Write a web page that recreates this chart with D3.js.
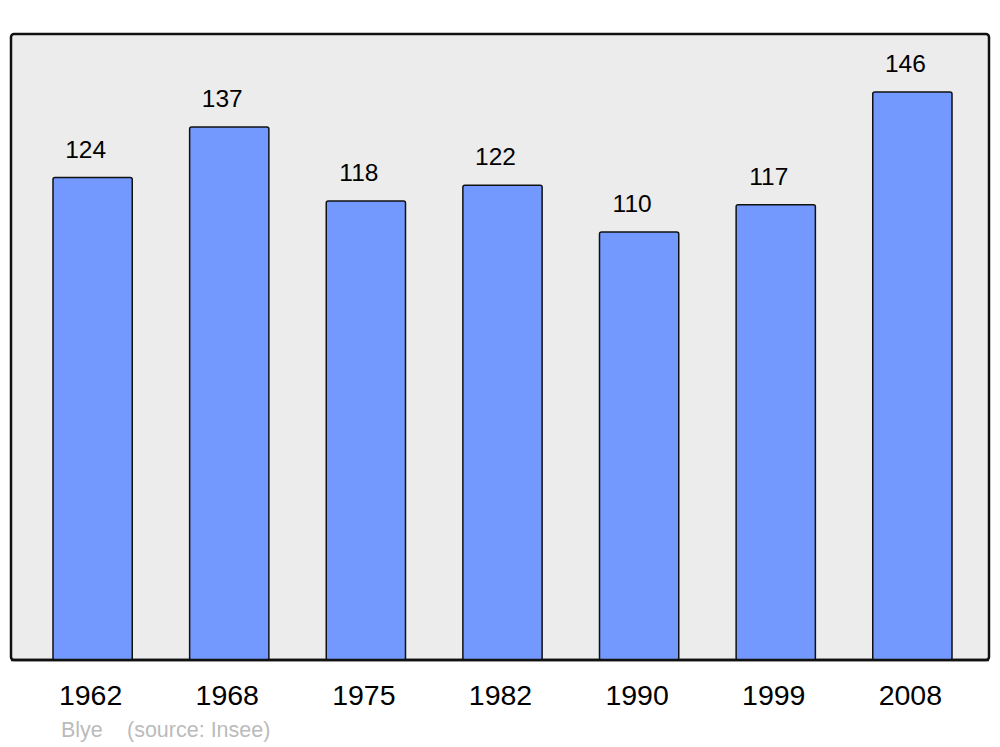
<!DOCTYPE html>
<html>
<head>
<meta charset="utf-8">
<script src="https://cdn.jsdelivr.net/npm/d3@7"></script>
<style>
  body { margin: 0; background: #fff; }
  text { font-family: "Liberation Sans", Arial, sans-serif; }
</style>
</head>
<body>
<div id="chart"></div>
<script>
// Population chart - Blye

// Data
var years = ["1962", "1968", "1975", "1982", "1990", "1999", "2008"];
var population = [124, 137, 118, 122, 110, 117, 146];
var placeName = "Blye";
var sourceText = "(source: Insee)";

var width = 1000;
var height = 747;

var svg = d3.select("#chart")
    .append("svg")
    .attr("width", width)
    .attr("height", height);

// Panel behind the bars
svg.append("rect")
    .attr("x", 11)
    .attr("y", 34)
    .attr("width", 978)
    .attr("height", 626)
    .attr("rx", 3)
    .attr("fill", "#ececec")
    .attr("stroke", "#111")
    .attr("stroke-width", 2.5);

// Scales
var xScale = d3.scaleBand()
    .domain(years)
    .range([53, 952])
    .paddingInner(0.42)
    .paddingOuter(0);

var yScale = d3.scaleLinear()
    .domain([0, 146])
    .range([660, 92]);

// Bars
svg.selectAll(".bar")
    .data(population)
    .enter()
    .append("rect")
    .attr("class", "bar")
    .attr("x", function(d, i) { return xScale(years[i]); })
    .attr("y", function(d) { return yScale(d); })
    .attr("width", xScale.bandwidth())
    .attr("height", function(d) { return yScale(0) - yScale(d); })
    .attr("rx", 2)
    .attr("fill", "#7399ff")
    .attr("stroke", "#111")
    .attr("stroke-width", 1.5);

// Redraw the bottom edge so it sits on top of the bars
svg.append("line")
    .attr("x1", 11)
    .attr("x2", 989)
    .attr("y1", 660)
    .attr("y2", 660)
    .attr("stroke", "#111")
    .attr("stroke-width", 2.5);

// Value labels
svg.selectAll(".valueLabel")
    .data(population)
    .enter()
    .append("text")
    .attr("class", "valueLabel")
    .attr("x", function(d, i) { return xScale(years[i]) + xScale.bandwidth() / 2 - 7; })
    .attr("y", function(d) { return yScale(d) - 20; })
    .attr("text-anchor", "middle")
    .attr("font-size", 24.5)
    .attr("fill", "#000")
    .text(function(d) { return d; });

// Year labels
svg.selectAll(".yearLabel")
    .data(years)
    .enter()
    .append("text")
    .attr("class", "yearLabel")
    .attr("x", function(d) { return xScale(d) + xScale.bandwidth() / 2 - 2; })
    .attr("y", 705)
    .attr("text-anchor", "middle")
    .attr("font-size", 28.5)
    .attr("fill", "#000")
    .text(function(d) { return d; });

// Source
svg.append("text")
    .attr("x", 61)
    .attr("y", 737)
    .attr("font-size", 21.5)
    .attr("fill", "#bbbbbb")
    .text(placeName);

svg.append("text")
    .attr("x", 127)
    .attr("y", 737)
    .attr("font-size", 21.5)
    .attr("fill", "#bbbbbb")
    .text(sourceText);
</script>
</body>
</html>
